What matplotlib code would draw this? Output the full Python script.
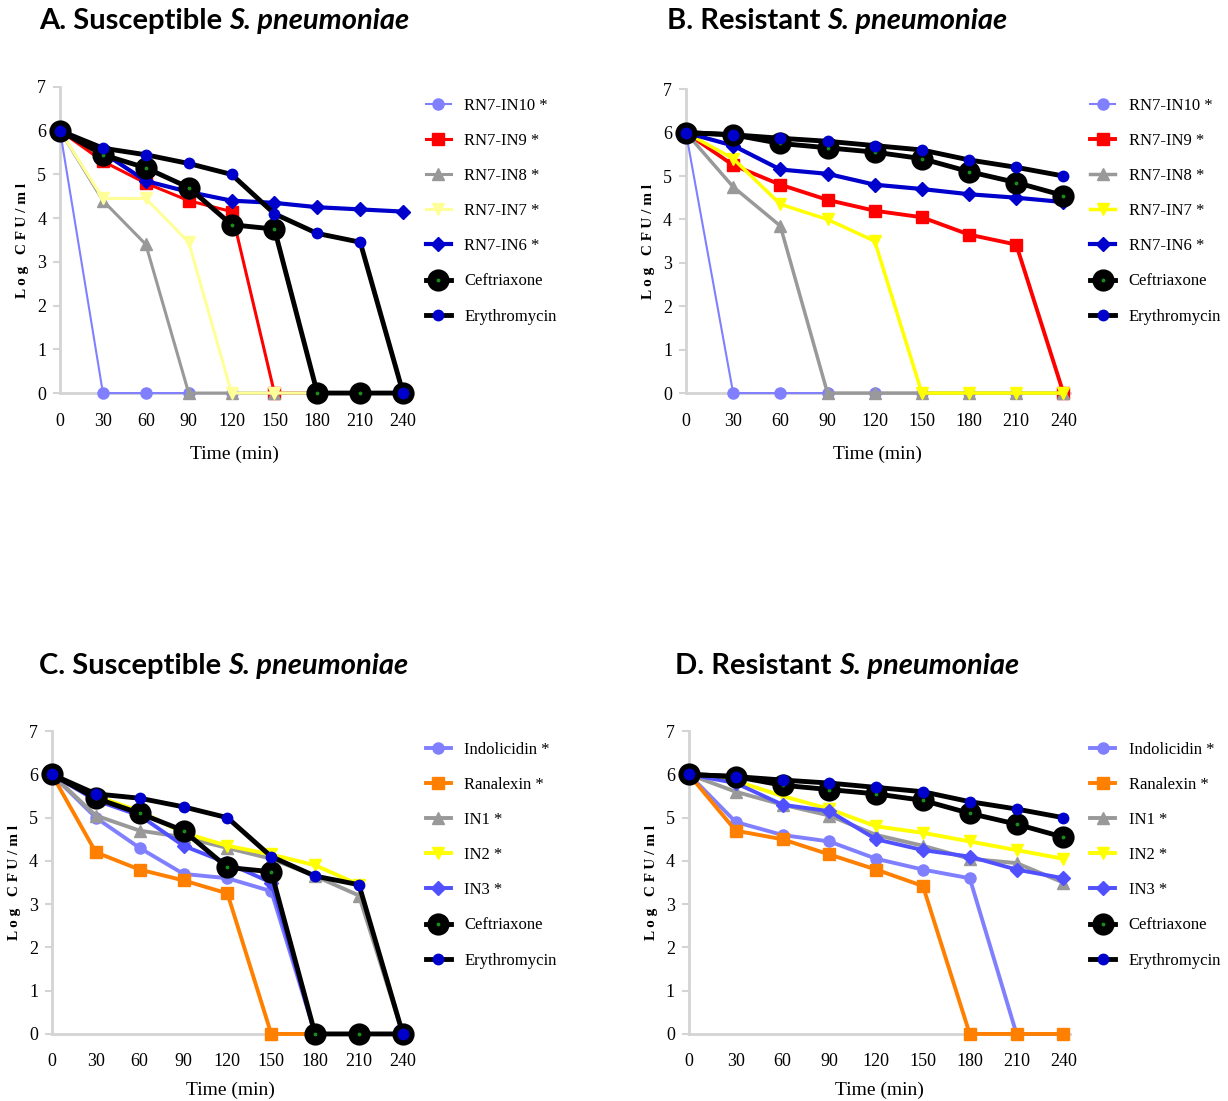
import matplotlib
matplotlib.use("Agg")
import matplotlib.pyplot as plt

time_min = [0, 30, 60, 90, 120, 150, 180, 210, 240]
time_ticks = [0, 30, 60, 90, 120, 150, 180, 210, 240]
log_ticks = [0, 1, 2, 3, 4, 5, 6, 7]

# Panel A: susceptible, RN7 series
a_in10 = [6, 0, 0, 0, 0, 0, 0, 0, 0]
a_in9 = [6, 5.3, 4.8, 4.4, 4.15, 0, 0, 0, 0]
a_in8 = [6, 4.4, 3.4, 0, 0, 0, 0, 0, 0]
a_in7 = [6, 4.45, 4.45, 3.45, 0, 0, 0, 0, 0]
a_in6 = [6, 5.5, 4.85, 4.6, 4.4, 4.35, 4.25, 4.2, 4.15]
a_cef = [6, 5.45, 5.15, 4.7, 3.85, 3.75, 0, 0, 0]
a_ery = [6, 5.6, 5.45, 5.25, 5.0, 4.1, 3.65, 3.45, 0]

# Panel B: resistant, RN7 series
b_in10 = [6, 0, 0, 0, 0, 0, 0, 0, 0]
b_in9 = [6, 5.25, 4.8, 4.45, 4.2, 4.05, 3.65, 3.42, 0]
b_in8 = [6, 4.75, 3.85, 0, 0, 0, 0, 0, 0]
b_in7 = [6, 5.4, 4.35, 4.0, 3.5, 0, 0, 0, 0]
b_in6 = [6, 5.7, 5.15, 5.05, 4.8, 4.7, 4.58, 4.5, 4.4]
b_cef = [6, 5.95, 5.75, 5.65, 5.55, 5.4, 5.1, 4.85, 4.55]
b_ery = [6, 5.95, 5.87, 5.8, 5.7, 5.6, 5.37, 5.2, 5.0]

# Panel C: susceptible, parent peptides
c_ind = [6, 5.0, 4.3, 3.7, 3.6, 3.3, 0, 0, 0]
c_ran = [6, 4.2, 3.8, 3.55, 3.25, 0, 0, 0, 0]
c_in1 = [6, 5.05, 4.7, 4.55, 4.3, 4.05, 3.65, 3.2, 0]
c_in2 = [6, 5.5, 5.15, 4.65, 4.35, 4.15, 3.9, 3.45, 0]
c_in3 = [6, 5.4, 5.05, 4.35, 3.95, 3.5, 0, 0, 0]
c_cef = [6, 5.45, 5.1, 4.7, 3.85, 3.75, 0, 0, 0]
c_ery = [6, 5.55, 5.45, 5.25, 5.0, 4.1, 3.65, 3.45, 0]

# Panel D: resistant, parent peptides
d_ind = [6, 4.9, 4.6, 4.45, 4.05, 3.8, 3.6, 0, 0]
d_ran = [6, 4.7, 4.5, 4.15, 3.8, 3.42, 0, 0, 0]
d_in1 = [6, 5.6, 5.3, 5.05, 4.6, 4.35, 4.05, 3.95, 3.5]
d_in2 = [6, 5.85, 5.5, 5.2, 4.8, 4.65, 4.45, 4.25, 4.05]
d_in3 = [6, 5.8, 5.3, 5.15, 4.5, 4.25, 4.1, 3.8, 3.6]
d_cef = [6, 5.95, 5.75, 5.65, 5.55, 5.4, 5.1, 4.85, 4.55]
d_ery = [6, 5.95, 5.87, 5.8, 5.7, 5.6, 5.37, 5.2, 5.0]

labels_rn7 = ["RN7-IN10 *", "RN7-IN9 *", "RN7-IN8 *", "RN7-IN7 *", "RN7-IN6 *",
              "Ceftriaxone", "Erythromycin"]
labels_par = ["Indolicidin *", "Ranalexin *", "IN1 *", "IN2 *", "IN3 *",
              "Ceftriaxone", "Erythromycin"]

SERIF = "Liberation Serif"
SANS = "Lato"

fig = plt.figure(figsize=(12.28, 11.01), dpi=100)


def style_for(color, marker, ms, lw):
    return dict(color=color, marker=marker, ms=ms, lw=lw, mec=color, mfc=color)


def draw_panel(rect, series, labels, styles, title_plain, title_it, title_xy, leg_xy, xlpad):
    ax = fig.add_axes(rect)
    for ys, lab, st in zip(series, labels, styles):
        ax.plot(time_min, ys, label=lab, clip_on=False, **st)
    ax.set_xlim(0, 244)
    ax.set_ylim(0, 7)
    ax.set_xticks(time_ticks)
    ax.set_yticks(log_ticks)
    ax.set_xticklabels([str(t) for t in time_ticks], fontfamily=SERIF, fontsize=13)
    ax.set_yticklabels([str(t) for t in log_ticks], fontfamily=SERIF, fontsize=13)
    for s in ["top", "right"]:
        ax.spines[s].set_visible(False)
    for s in ["left", "bottom"]:
        ax.spines[s].set_color("#d4d4d4")
        ax.spines[s].set_linewidth(2)
        ax.spines[s].set_zorder(0)
    ax.tick_params(axis="y", colors="#d4d4d4", length=5, width=1.5, pad=5, labelcolor="black")
    ax.tick_params(axis="x", colors="#d4d4d4", length=0, pad=14, labelcolor="black")
    ax.set_xlabel("Time (min)", fontfamily=SERIF, fontsize=14, labelpad=xlpad)
    ax.set_ylabel("L o g   C F U / m l", fontfamily=SERIF, fontsize=11, fontweight="bold",
                  labelpad=6)
    ax.legend(loc="upper left", bbox_to_anchor=leg_xy, bbox_transform=fig.transFigure,
              frameon=False, prop={"family": SERIF, "size": 12}, labelspacing=1.15,
              handlelength=1.5, handletextpad=0.8, borderpad=0)
    t1 = fig.text(title_xy[0], title_xy[1], title_plain + " ", fontfamily=SANS,
                  fontweight="bold", fontsize=21, va="center", ha="left")
    fig.canvas.draw()
    bb = t1.get_window_extent()
    x2 = bb.x1 / fig.bbox.width
    fig.text(x2, title_xy[1], title_it, fontfamily=SANS, fontweight="bold",
             fontstyle="italic", fontsize=21, va="center", ha="left")
    return ax


def cef_style():
    return dict(color="black", marker="o", ms=9.5, mew=6.5, mec="black", mfc="#1a8a1a", lw=3.5)


def ery_style():
    return dict(color="black", marker="o", ms=8.5, mew=0, mfc="#0000cc", lw=3.5)


styles_a = [
    style_for("#8080ff", "o", 8, 1.5),
    style_for("#ff0000", "s", 8, 2.2),
    style_for("#999999", "^", 8, 2.2),
    style_for("#ffff99", "v", 8, 2.2),
    style_for("#0000cc", "D", 7, 3),
    cef_style(),
    ery_style(),
]
styles_b = [
    style_for("#8080ff", "o", 8, 1.5),
    style_for("#ff0000", "s", 8, 2.8),
    style_for("#999999", "^", 8, 2.5),
    style_for("#ffff00", "v", 8, 2.5),
    style_for("#0000cc", "D", 7, 3),
    cef_style(),
    ery_style(),
]
styles_c = [
    style_for("#8080ff", "o", 8, 2.8),
    style_for("#ff8000", "s", 8, 2.8),
    style_for("#999999", "^", 8, 2.8),
    style_for("#ffff00", "v", 8, 2.8),
    style_for("#5050ff", "D", 7, 2.8),
    cef_style(),
    ery_style(),
]

draw_panel([0.0489, 0.643, 0.284, 0.278],
           [a_in10, a_in9, a_in8, a_in7, a_in6, a_cef, a_ery], labels_rn7, styles_a,
           "A. Susceptible", "S. pneumoniae", (0.032, 0.981), (0.340, 0.919), 12)
draw_panel([0.5586, 0.643, 0.3125, 0.276],
           [b_in10, b_in9, b_in8, b_in7, b_in6, b_cef, b_ery], labels_rn7, styles_b,
           "B. Resistant", "S. pneumoniae", (0.543, 0.981), (0.881, 0.919), 12)
draw_panel([0.0423, 0.0609, 0.2905, 0.275],
           [c_ind, c_ran, c_in1, c_in2, c_in3, c_cef, c_ery], labels_par, styles_c,
           "C. Susceptible", "S. pneumoniae", (0.032, 0.395), (0.340, 0.334), 8)
draw_panel([0.561, 0.0609, 0.310, 0.275],
           [d_ind, d_ran, d_in1, d_in2, d_in3, d_cef, d_ery], labels_par, styles_c,
           "D. Resistant", "S. pneumoniae", (0.550, 0.395), (0.881, 0.334), 8)

fig.savefig("out.png", dpi=100)
